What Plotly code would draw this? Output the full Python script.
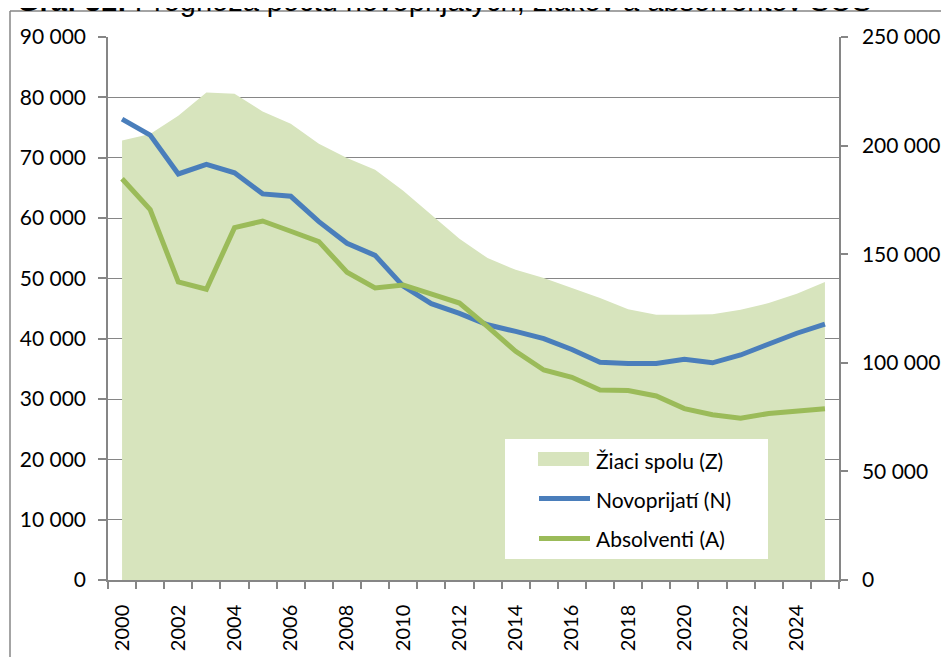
import plotly.graph_objects as go

years = list(range(2000, 2026))
ziaci_spolu = [202400, 205300, 213800, 224500, 223900, 215700, 210100, 200900, 194300, 188900,
               179200, 168200, 157100, 148200, 142800, 139000, 134400, 129800, 124700, 122100,
               122100, 122400, 124400, 127500, 131800, 137200]
novoprijati = [76400, 73750, 67300, 68900, 67500, 64000, 63600, 59400, 55800, 53800,
               48700, 45800, 44200, 42300, 41200, 40000, 38200, 36100, 35900, 35900,
               36600, 36000, 37300, 39200, 40900, 42400]
absolventi = [66500, 61400, 49400, 48200, 58400, 59500, 57800, 56100, 51000, 48400,
              48900, 47300, 45900, 42000, 37900, 34800, 33600, 31500, 31400, 30500,
              28400, 27400, 26800, 27600, 28000, 28400]

left_ticks = list(range(0, 90001, 10000))
right_ticks = list(range(0, 250001, 50000))
x_labels = years[::2]

title_text = "<b>Graf 31:</b> Prognóza počtu novoprijatých, žiakov a absolventov SOŠ"
legend_names = ["Žiaci spolu (Z)", "Novoprijatí (N)", "Absolventi (A)"]

BLUE = "#4A7EBB"
GREEN = "#9BBB59"
AREA = "#D7E4BD"
GRAY = "#868686"
FONT = "Lato"

# the page body adds an 8px margin, so the figure is a bit smaller than the window
OFF = 8
W, H = 949 - OFF, 657 - OFF
L, R, T, B = 100, 110, 29, 77
PW, PH = W - L - R, H - T - B


def px(x):
    # screen x -> paper x
    return (x - OFF - L) / PW


def py(y):
    # screen y -> paper y
    return (H - B - (y - OFF)) / PH


def fmt(v):
    return f"{v:,}".replace(",", " ")


fig = go.Figure()
fig.add_trace(
    go.Scatter(
        x=years, y=ziaci_spolu, mode="none", fill="tozeroy",
        fillcolor=AREA, name=legend_names[0], yaxis="y",
    )
)
fig.add_trace(
    go.Scatter(
        x=years, y=novoprijati, mode="lines", name=legend_names[1],
        line=dict(color=BLUE, width=5), yaxis="y2",
    )
)
fig.add_trace(
    go.Scatter(
        x=years, y=absolventi, mode="lines", name=legend_names[2],
        line=dict(color=GREEN, width=5), yaxis="y2",
    )
)

fig.update_layout(
    width=W,
    height=H,
    margin=dict(l=L, r=R, t=T, b=B, pad=0, autoexpand=False),
    paper_bgcolor="white",
    plot_bgcolor="white",
    showlegend=False,
    font=dict(family=FONT, size=21, color="black"),
    xaxis=dict(
        automargin=False,
        range=[1999.5, 2025.5],
        tickvals=x_labels,
        ticktext=[str(v) for v in x_labels],
        tickangle=-90,
        ticks="",
        showgrid=False,
        zeroline=False,
        showline=True,
        linecolor=GRAY,
        linewidth=1.5,
        ticklabelstandoff=15,
        tickfont=dict(family=FONT, size=20),
        minor=dict(ticks="outside", tick0=1999.5, dtick=1, ticklen=7,
                   tickcolor=GRAY, tickwidth=1.5, showgrid=False),
    ),
    yaxis=dict(
        automargin=False,
        side="right",
        range=[0, 250000],
        tickvals=right_ticks,
        ticktext=[fmt(v) for v in right_ticks],
        showgrid=False,
        zeroline=False,
        showline=True,
        linecolor=GRAY,
        linewidth=1.5,
        ticks="outside",
        ticklen=7,
        tickwidth=1.5,
        tickcolor=GRAY,
        ticklabelstandoff=10,
    ),
    yaxis2=dict(
        automargin=False,
        overlaying="y",
        side="left",
        range=[0, 90000],
        tickvals=left_ticks,
        ticktext=[fmt(v) for v in left_ticks],
        showgrid=True,
        gridcolor=GRAY,
        gridwidth=1.2,
        zeroline=False,
        showline=True,
        linecolor=GRAY,
        linewidth=1.5,
        ticks="outside",
        ticklen=8,
        tickwidth=1.5,
        tickcolor=GRAY,
        ticklabelstandoff=8,
    ),
)

# outer chart frame (left and top edges visible in the crop)
frame = dict(color=GRAY, width=1.5)
fig.add_shape(type="line", xref="paper", yref="paper",
              x0=px(10), x1=px(960), y0=py(11), y1=py(11), line=frame)
fig.add_shape(type="line", xref="paper", yref="paper",
              x0=px(10), x1=px(10), y0=py(11), y1=py(670), line=frame)

# legend box
fig.add_shape(type="rect", xref="paper", yref="paper",
              x0=px(505), x1=px(768), y0=py(559), y1=py(439),
              fillcolor="white", line=dict(width=0), layer="above")
fig.add_shape(type="rect", xref="paper", yref="paper",
              x0=px(538), x1=px(589), y0=py(466), y1=py(452),
              fillcolor=AREA, line=dict(width=0), layer="above")
for yy, col in [(498.5, BLUE), (538.5, GREEN)]:
    fig.add_shape(type="line", xref="paper", yref="paper",
                  x0=px(539), x1=px(590), y0=py(yy), y1=py(yy),
                  line=dict(color=col, width=5), layer="above")
for yy, name in zip([460, 499, 538], legend_names):
    fig.add_annotation(x=px(594), y=py(yy), xref="paper", yref="paper",
                       text=name, showarrow=False, xanchor="left", yanchor="middle",
                       font=dict(family=FONT, size=21, color="black"))

# caption above the chart, cut off by the top edge
fig.add_annotation(x=px(15), y=py(19), xref="paper", yref="paper",
                   text=title_text, showarrow=False, xanchor="left", yanchor="bottom",
                   font=dict(family="Liberation Sans", size=29, color="black"))

fig.write_html("out.html")
